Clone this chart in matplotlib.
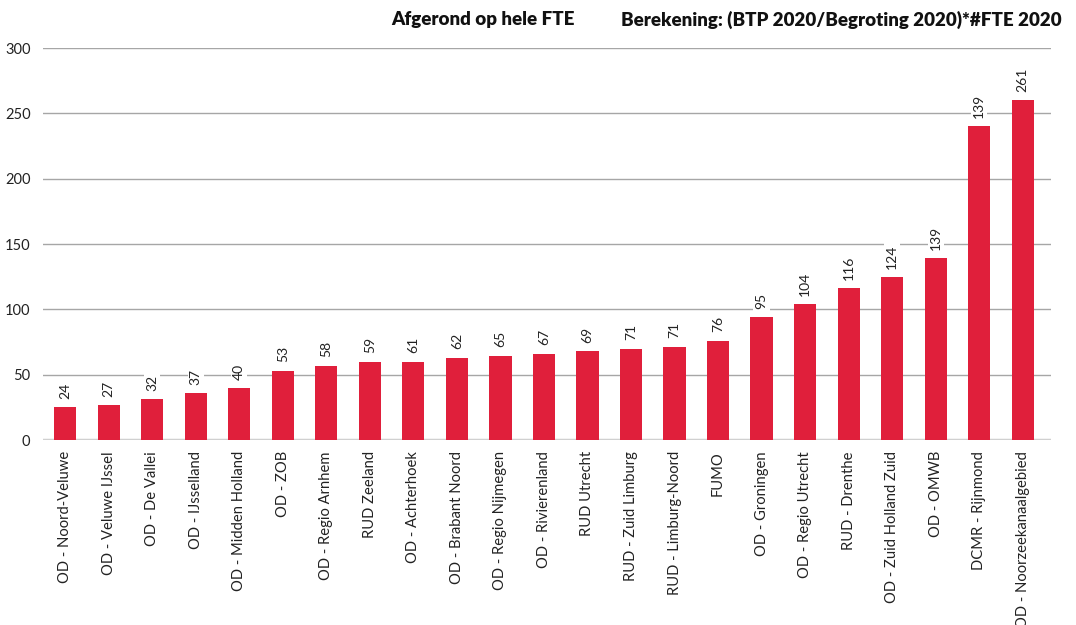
import matplotlib.pyplot as plt

plt.rcParams['font.family'] = ['Lato', 'DejaVu Sans']

# data
regions = ['OD - Noord-Veluwe', 'OD - Veluwe IJssel', 'OD - De Vallei', 'OD - IJsselland',
           'OD - Midden Holland', 'OD - ZOB', 'OD - Regio Arnhem', 'RUD Zeeland',
           'OD - Achterhoek', 'OD - Brabant Noord', 'OD - Regio Nijmegen', 'OD - Rivierenland',
           'RUD Utrecht', 'RUD - Zuid Limburg', 'RUD - Limburg-Noord', 'FUMO',
           'OD - Groningen', 'OD - Regio Utrecht', 'RUD - Drenthe', 'OD - Zuid Holland Zuid',
           'OD - OMWB', 'DCMR - Rijnmond', 'OD - Noorzeekanaalgebied']
heights = [25, 26.5, 31, 36, 39.5, 53, 57, 60, 60, 63, 64.5, 66, 68, 70, 71.5, 76,
           94, 104, 116, 124.5, 139, 240, 260]
labels = ['24', '27', '32', '37', '40', '53', '58', '59', '61', '62', '65', '67',
          '69', '71', '71', '76', '95', '104', '116', '124', '139', '139', '261']
yticks = [0, 50, 100, 150, 200, 250, 300]

red = '#E01F3B'

fig = plt.figure(figsize=(10.76, 6.25), dpi=100)
ax = fig.add_axes([43 / 1076, 185 / 625, 1008 / 1076, 392 / 625])

x = list(range(len(regions)))
ax.bar(x, heights, width=0.51, color=red, zorder=3)

# value labels above bars
for xi, h, lab in zip(x, heights, labels):
    ax.annotate(lab, (xi, h), xytext=(0, 6), textcoords='offset points',
                rotation=90, ha='center', va='bottom', fontsize=10, color='#222222',
                bbox=dict(facecolor='white', edgecolor='none', pad=1.5), zorder=4)

ax.set_xlim(-0.51, 22.65)
ax.set_ylim(0, 300)
ax.set_yticks(yticks)
ax.set_xticks(x)
ax.set_xticklabels(regions, rotation=90, fontsize=10.6, va='top', ha='center')

# grid
for t in yticks[1:]:
    ax.axhline(t, color='#a6a6a6', lw=1, zorder=1)
ax.axhline(0, color='#d0d0d0', lw=2.5, zorder=2)

for s in ax.spines.values():
    s.set_visible(False)
ax.tick_params(axis='both', length=0, colors='#222222')
ax.tick_params(axis='y', pad=9, labelsize=10.5)
ax.tick_params(axis='x', pad=8)

# headers
fig.text(575 / 1076, 1 - 20 / 625, 'Afgerond op hele FTE', ha='right', va='center',
         fontsize=13.5, fontweight='heavy', color='#111111')
fig.text(1062 / 1076, 1 - 20 / 625, 'Berekening: (BTP 2020/Begroting 2020)*#FTE 2020',
         ha='right', va='center', fontsize=13.5, fontweight='heavy', color='#111111')

fig.savefig('out.png', dpi=100)
